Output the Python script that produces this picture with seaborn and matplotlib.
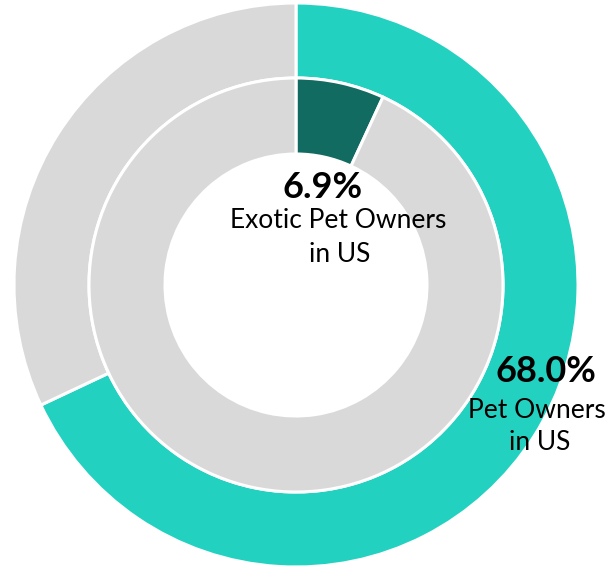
import matplotlib
matplotlib.use("Agg")
import matplotlib.pyplot as plt
import seaborn as sns

sns.set_theme(style="white")
plt.rcParams['font.family'] = ['Lato', 'DejaVu Sans']

outer_labels = ["Pet Owners in US", "Other"]
outer_values = [68.0, 32.0]
inner_labels = ["Exotic Pet Owners in US", "Other"]
inner_values = [6.9, 93.1]
outer_colors = ["#22D1C0", "#D9D9D9"]
inner_colors = ["#126B61", "#D9D9D9"]

fig = plt.figure(figsize=(6.08, 5.69), dpi=100)
W, H = 608, 569
cx, cy, R = 296, 285, 282
ax = fig.add_axes([(cx - R) / W, (H - cy - R) / H, 2 * R / W, 2 * R / H])

ax.pie(outer_values, radius=1.0, colors=outer_colors, startangle=90, counterclock=False,
       wedgeprops=dict(width=75 / R, edgecolor="white", linewidth=2.2))
ax.pie(inner_values, radius=207 / R, colors=inner_colors, startangle=90, counterclock=False,
       wedgeprops=dict(width=76 / R, edgecolor="white", linewidth=2.2))
ax.set_xlim(-1, 1)
ax.set_ylim(-1, 1)
ax.set_aspect("equal")
ax.axis("off")

def p(px, py):
    return ((px - cx) / R, (cy - py) / R)

ax.text(*p(323, 187), f"{inner_values[0]:.1f}%", ha="center", va="center",
        fontsize=26, fontweight="bold", color="black")
ax.text(*p(338, 221), "Exotic Pet Owners", ha="center", va="center", fontsize=19, color="black")
ax.text(*p(340, 254), "in US", ha="center", va="center", fontsize=19, color="black")

ax.text(*p(546, 371), f"{outer_values[0]:.1f}%", ha="center", va="center",
        fontsize=26, fontweight="bold", color="black")
ax.text(*p(537, 411), "Pet Owners", ha="center", va="center", fontsize=19, color="black")
ax.text(*p(540, 443), "in US", ha="center", va="center", fontsize=19, color="black")

fig.savefig("out.png", dpi=100)
